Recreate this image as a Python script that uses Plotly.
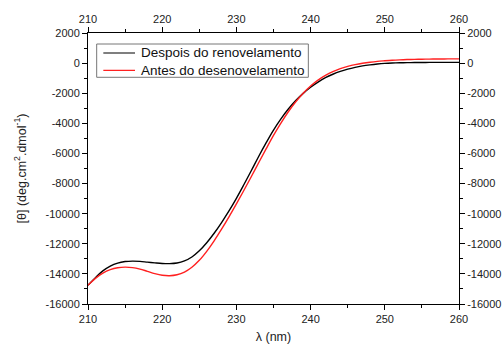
import plotly.graph_objects as go

wavelength = list(range(210, 261))

despois = [-14750, -14250, -13800, -13480, -13280, -13180, -13150, -13170, -13220, -13270,
           -13310, -13320, -13280, -13140, -12880, -12470, -11930, -11300, -10590, -9820,
           -8980, -8080, -7150, -6200, -5300, -4450, -3700, -3050, -2490, -2010,
           -1600, -1260, -970, -740, -550, -400, -280, -185, -115, -60,
           -20, 5, 20, 30, 38, 43, 46, 48, 50, 50, 50]

antes = [-14750, -14300, -13950, -13720, -13590, -13550, -13580, -13680, -13830, -13980,
         -14090, -14120, -14060, -13880, -13560, -13100, -12500, -11800, -11030, -10210,
         -9350, -8460, -7550, -6620, -5700, -4800, -3980, -3230, -2570, -2000,
         -1520, -1130, -820, -570, -370, -220, -100, -10, 60, 115,
         155, 190, 215, 235, 250, 260, 268, 273, 277, 280, 282]

series_names = ["Despois do renovelamento", "Antes do desenovelamento"]
series_colors = ["black", "#ff2020"]

x_ticks = [210, 220, 230, 240, 250, 260]
y_ticks = [-16000, -14000, -12000, -10000, -8000, -6000, -4000, -2000, 0, 2000]
y_labels = ["-16000", "-14000", "-12000", "-10000", "-8000", "-6000", "-4000", "-2000", "0", "2000"]

font_family = "Liberation Sans, Arial, sans-serif"

fig = go.Figure()
for vals, name, col in zip([despois, antes], series_names, series_colors):
    fig.add_trace(go.Scatter(x=wavelength, y=vals, mode="lines", name=name, showlegend=False,
                             line=dict(color=col, width=1.4, shape="spline")))
fig.add_trace(go.Scatter(x=wavelength, y=despois, mode="lines", xaxis="x2", yaxis="y2",
                         showlegend=False, hoverinfo="skip", opacity=0,
                         line=dict(color="black", width=0)))

axis_common = dict(showgrid=False, zeroline=False, showline=True, linecolor="black",
                   linewidth=1, ticks="outside", ticklen=5, tickwidth=1, tickcolor="black",
                   automargin=False,
                   tickfont=dict(size=11, color="#222", family=font_family))

# custom legend box (paper coordinates of the plot area)
shapes = [dict(type="rect", xref="paper", yref="paper", x0=0.0234, x1=0.5939, y0=0.8366, y1=0.9594,
               line=dict(color="#777", width=1), fillcolor="white", layer="above")]
annotations = []
legend_rows = [0.9262, 0.8623]
for name, col, yy in zip(series_names, series_colors, legend_rows):
    shapes.append(dict(type="line", xref="paper", yref="paper", x0=0.0413, x1=0.1267, y0=yy, y1=yy,
                       line=dict(color=col, width=1.2), layer="above"))
    annotations.append(dict(text=name, xref="paper", yref="paper", x=0.1375, y=yy, xanchor="left",
                            yanchor="middle", showarrow=False,
                            font=dict(size=13.5, color="#111", family=font_family)))

fig.update_layout(
    width=504, height=344,
    margin=dict(l=88, r=45, t=33, b=40),
    plot_bgcolor="white", paper_bgcolor="white",
    font=dict(family=font_family, color="#222"),
    xaxis=dict(range=[210, 260], tickvals=x_ticks, ticktext=[str(v) for v in x_ticks],
               minor=dict(dtick=5, tick0=210, ticks="outside", ticklen=3, tickcolor="black"),
               title=dict(text="λ (nm)", font=dict(size=12.5), standoff=12), **axis_common),
    yaxis=dict(range=[-16000, 2000], tickvals=y_ticks, ticktext=y_labels,
               minor=dict(dtick=1000, tick0=0, ticks="outside", ticklen=3, tickcolor="black"),
               title=dict(text="[θ] (deg.cm<sup>2</sup>.dmol<sup>-1</sup>)", font=dict(size=12.5), standoff=16),
               **axis_common),
    xaxis2=dict(range=[210, 260], tickvals=x_ticks, ticktext=[str(v) for v in x_ticks],
                overlaying="x", side="top", anchor="y",
                minor=dict(dtick=5, tick0=210, ticks="outside", ticklen=3, tickcolor="black"),
                **axis_common),
    yaxis2=dict(range=[-16000, 2000], tickvals=y_ticks, ticktext=y_labels,
                overlaying="y", side="right", anchor="x",
                minor=dict(dtick=1000, tick0=0, ticks="outside", ticklen=3, tickcolor="black"),
                **axis_common),
    shapes=shapes,
    annotations=annotations,
    showlegend=False,
)

fig.write_html("out.html", config={"displayModeBar": False},
               post_script="document.body.style.margin='0';document.body.style.overflow='hidden';")
